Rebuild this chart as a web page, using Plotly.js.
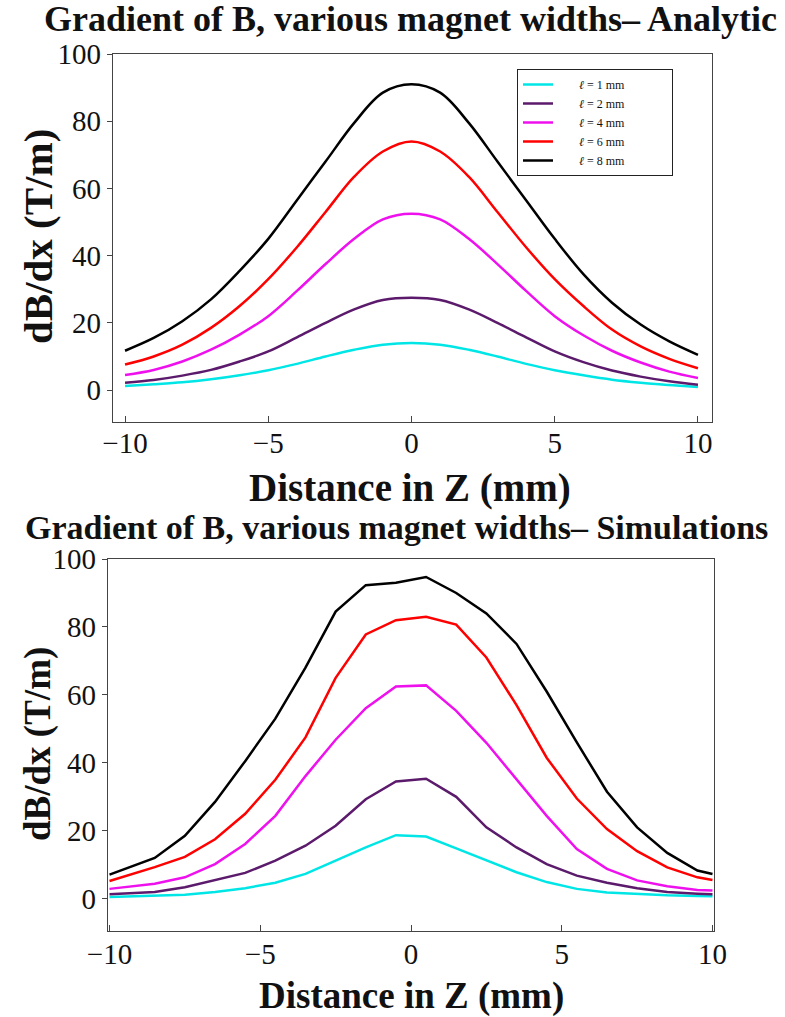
<!DOCTYPE html>
<html>
<head>
<meta charset="utf-8">
<script src="https://cdn.plot.ly/plotly-3.0.1.min.js"></script>
<style>html,body{margin:0;padding:0;background:#fff;}#chart{width:785px;height:1017px;}</style>
</head>
<body>
<div id="chart"></div>
<script>
// ---- data ----
const widthLabels = ["1 mm", "2 mm", "4 mm", "6 mm", "8 mm"];
const seriesColors = ["#00e6e6", "#5b1a6b", "#ee11ee", "#ff0000", "#000000"];

const zAnalytic = [-10,-9,-8,-7,-6,-5,-4,-3,-2,-1,0,1,2,3,4,5,6,7,8,9,10];
const analytic1mm = [1.2,1.7,2.3,3.2,4.4,5.9,7.8,10,12,13.5,14,13.5,12,10,7.8,5.9,4.4,3.1,2.2,1.5,0.9];
const analytic2mm = [2.2,3,4.3,6,8.5,11.5,15.7,20,24,26.8,27.5,26.8,24,20,15.7,11.5,8.3,5.8,4,2.6,1.6];
const analytic4mm = [4.5,6,8.5,12,16.5,22,29.5,37.5,45,50.8,52.5,50.8,45,37.5,29.5,22,16.3,11.7,8.2,5.5,3.6];
const analytic6mm = [7.6,10,13.5,18.5,25,33,42.5,53,63.5,71,74,71,63.5,53,42.5,33,25,18,13,9.3,6.5];
const analytic8mm = [11.7,15.5,20.5,27,35.5,45,56.5,68,79.5,88.5,91,88.5,79.5,68,56.5,45,34.5,26,19.5,14.5,10.5];

const zSim = [-10,-9.5,-8.5,-7.5,-6.5,-5.5,-4.5,-3.5,-2.5,-1.5,-0.5,0.5,1.5,2.5,3.5,4.5,5.5,6.5,7.5,8.5,9.5,10];
const sim1mm = [0.5,0.6,0.8,1.2,2,3.1,4.7,7.3,11.2,15.1,18.7,18.3,14.8,11.2,7.8,4.9,2.9,1.8,1.3,1,0.8,0.7];
const sim2mm = [1.3,1.5,2,3.4,5.4,7.6,11.2,15.6,21.5,29.3,34.5,35.3,30,21,15.1,10.2,6.8,4.7,3.1,2,1.5,1.3];
const sim4mm = [2.9,3.4,4.4,6.3,10.2,16.1,24.4,36.1,46.8,56.1,62.5,62.8,55.3,45.9,35.1,24.4,14.6,8.8,5.4,3.7,2.6,2.4];
const sim6mm = [5.2,6.5,9.3,12.3,17.5,25,35,47.5,65,77.8,82,83,80.7,71,57,41.5,29.5,20.5,14,9.2,6.3,5.5];
const sim8mm = [7.1,8.7,12,18.5,28.5,40.5,53,68,84.5,92.3,93,94.7,90,84,75,61,46,31.5,21,13.5,8.3,7.3];

const xTickVals = [-10,-5,0,5,10];
const yTickVals = [0,20,40,60,80,100];

const titleTop = "Gradient of B, various magnet widths\u2013 Analytic";
const titleBottom = "Gradient of B, various magnet widths\u2013 Simulations";
const xTitle = "Distance in Z (mm)";
const yTitle = "dB/dx (T/m)";

// ---- build ----
const W = 785, H = 1017;
const px = v => v / W;
const py = v => 1 - v / H;
const serif = "Liberation Serif, Times New Roman, serif";

const analyticSets = [analytic1mm, analytic2mm, analytic4mm, analytic6mm, analytic8mm];
const simSets = [sim1mm, sim2mm, sim4mm, sim6mm, sim8mm];
const padL = "\u00a0".repeat(7);
const padR = "\u00a0".repeat(14);

const traces = [];
analyticSets.forEach((ys, i) => {
  traces.push({
    x: zAnalytic, y: ys, type: "scatter", mode: "lines",
    line: {color: seriesColors[i], width: 2.5, shape: "spline"},
    name: padL + "<i>\u2113</i> = " + widthLabels[i] + padR,
    xaxis: "x", yaxis: "y", showlegend: true
  });
});
simSets.forEach((ys, i) => {
  traces.push({
    x: zSim, y: ys, type: "scatter", mode: "lines",
    line: {color: seriesColors[i], width: 2.5},
    name: widthLabels[i], xaxis: "x2", yaxis: "y2", showlegend: false
  });
});

const axisCommon = {
  showgrid: false, zeroline: false, showline: true, mirror: true,
  linecolor: "#444", linewidth: 1.2, tickcolor: "#444",
  tickfont: {family: serif, size: 29, color: "#111"}
};

function ann(text, x, y, size, angle) {
  return {text: text, x: px(x), y: py(y), xref: "paper", yref: "paper",
    xanchor: "center", yanchor: "middle", textangle: angle || 0, borderpad: 0,
    showarrow: false, font: {family: serif, size: size, weight: "bold", color: "#111"}};
}

const layout = {
  width: W, height: H,
  margin: {l: 0, r: 0, t: 0, b: 0},
  paper_bgcolor: "#fff", plot_bgcolor: "#fff",
  showlegend: true,
  legend: {
    x: px(517), y: py(69), xanchor: "left", yanchor: "top",
    bordercolor: "#222", borderwidth: 1, bgcolor: "#fff",
    font: {family: serif, size: 12, color: "#111"},
    itemwidth: 30, tracegroupgap: 0
  },
  xaxis: Object.assign({}, axisCommon, {
    domain: [px(113), px(712)], range: [-10.42, 10.49],
    tickvals: xTickVals, ticks: "inside", ticklen: 6, anchor: "y",
    ticklabelstandoff: -5
  }),
  yaxis: Object.assign({}, axisCommon, {
    domain: [py(422), py(54)], range: [-9.5, 100],
    tickvals: yTickVals, ticks: "outside", ticklen: 5, anchor: "x"
  }),
  xaxis2: Object.assign({}, axisCommon, {
    domain: [px(108), px(714)], range: [-10.05, 10.05],
    tickvals: xTickVals, ticks: "inside", ticklen: 6, anchor: "y2",
    ticklabelstandoff: -3
  }),
  yaxis2: Object.assign({}, axisCommon, {
    domain: [py(931), py(559)], range: [-9.5, 100],
    tickvals: yTickVals, ticks: "outside", ticklen: 5, anchor: "x2"
  }),
  annotations: [
    ann(titleTop, 410, 19, 36),
    ann(titleBottom, 396, 527, 34),
    ann(xTitle, 410, 488, 39),
    ann(xTitle, 411, 996, 37),
    ann(yTitle, 38, 237, 41, -90),
    ann(yTitle, 38, 744, 37, -90)
  ]
};

Plotly.newPlot("chart", traces, layout, {displayModeBar: false, staticPlot: true});
</script>
</body>
</html>
